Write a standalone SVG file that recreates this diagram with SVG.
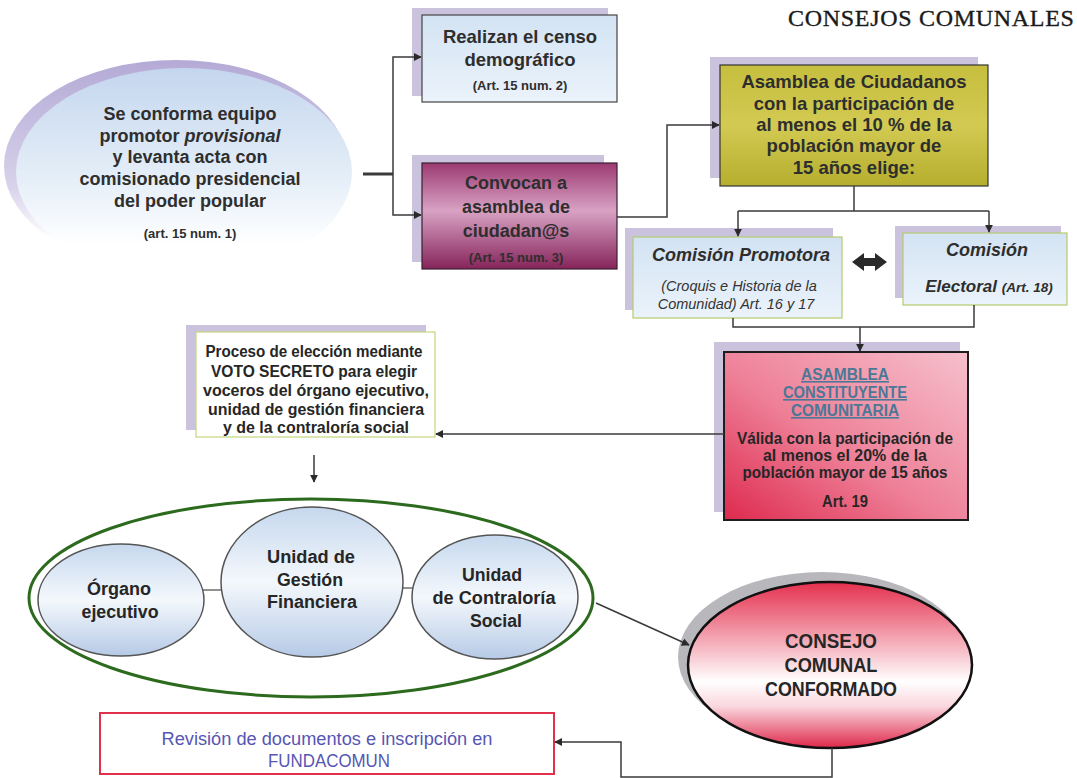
<svg xmlns="http://www.w3.org/2000/svg" width="1077" height="778" viewBox="0 0 1077 778">
<defs>
<style>
.t{font-family:"Liberation Sans",Arial,sans-serif;font-weight:bold;fill:#2e2e2e;text-anchor:middle}
.n{font-family:"Liberation Sans",Arial,sans-serif;font-weight:bold;fill:#262626;text-anchor:middle}
.u{font-family:"Liberation Sans",Arial,sans-serif;font-weight:bold;fill:#4a7896;text-anchor:middle;text-decoration:underline}
.sh{fill:#cbc3dd}
.ln{fill:none;stroke:#3a3a3a;stroke-width:1.5}
</style>
<marker id="ah" viewBox="0 0 10 10" refX="9" refY="5" markerWidth="8" markerHeight="8" orient="auto" markerUnits="userSpaceOnUse">
<path d="M0,0 L10,5 L0,10 z" fill="#2a2a2a"/>
</marker>
<linearGradient id="gBlue" x1="0" y1="0" x2="0" y2="1"><stop offset="0" stop-color="#d3e3f3"/><stop offset="1" stop-color="#ebf3fb"/></linearGradient>
<linearGradient id="gMag" x1="0" y1="0" x2="0" y2="1"><stop offset="0" stop-color="#9c3a72"/><stop offset="0.45" stop-color="#d8a2c4"/><stop offset="1" stop-color="#86245a"/></linearGradient>
<linearGradient id="gOl" x1="0" y1="0" x2="0" y2="1"><stop offset="0" stop-color="#c6be3e"/><stop offset="0.5" stop-color="#d2ca52"/><stop offset="1" stop-color="#b6ae2e"/></linearGradient>
<linearGradient id="gRed" x1="1" y1="0" x2="0" y2="1"><stop offset="0" stop-color="#f6c0cc"/><stop offset="0.55" stop-color="#ee8098"/><stop offset="1" stop-color="#de2a4e"/></linearGradient>
<linearGradient id="gCon" x1="0" y1="0" x2="0" y2="1"><stop offset="0" stop-color="#e4304e"/><stop offset="0.6" stop-color="#ffffff"/><stop offset="0.75" stop-color="#fad6de"/><stop offset="1" stop-color="#de284a"/></linearGradient>
<linearGradient id="gCir" x1="0" y1="0" x2="0" y2="1"><stop offset="0" stop-color="#c6d8ee"/><stop offset="0.5" stop-color="#f4f8fc"/><stop offset="1" stop-color="#b6cae6"/></linearGradient>
<linearGradient id="gBub" x1="0" y1="0" x2="0" y2="1"><stop offset="0" stop-color="#c4d6ee"/><stop offset="0.55" stop-color="#e6eff8"/><stop offset="0.85" stop-color="#ffffff"/></linearGradient>
<linearGradient id="gRim" x1="0" y1="0" x2="0" y2="1"><stop offset="0" stop-color="#b4aad6"/><stop offset="0.6" stop-color="#d8d2ea"/><stop offset="0.85" stop-color="#ffffff"/></linearGradient>
</defs>
<rect width="1077" height="778" fill="#ffffff"/>

<text x="788" y="26" font-family="'Liberation Serif','Times New Roman',serif" font-size="24" fill="#1a1a1a" stroke="#1a1a1a" stroke-width="0.35" letter-spacing="0.7">CONSEJOS  COMUNALES</text>

<g id="n-equipo">
<ellipse cx="176" cy="166" rx="172" ry="106" fill="url(#gRim)"/>
<ellipse cx="184" cy="172" rx="168" ry="104" fill="url(#gBub)"/>
<text class="t" font-size="18" x="190" y="120">Se conforma equipo</text>
<text class="t" font-size="18" x="190" y="142">promotor <tspan font-style="italic">provisional</tspan></text>
<text class="t" font-size="18" x="190" y="163">y levanta acta con</text>
<text class="t" font-size="18" x="190" y="185">comisionado presidencial</text>
<text class="t" font-size="18" x="190" y="207">del poder popular</text>
<text class="t" font-size="13" x="190" y="238">(art. 15 num. 1)</text>
</g>

<g id="n-censo">
<rect class="sh" x="412" y="8" width="196" height="88"/>
<rect x="422" y="15" width="195" height="87" fill="url(#gBlue)" stroke="#444" stroke-width="1.2"/>
<text class="t" font-size="18.5" x="520" y="43">Realizan el censo</text>
<text class="t" font-size="18.5" x="520" y="66">demográfico</text>
<text class="t" font-size="13" x="520" y="90">(Art. 15 num. 2)</text>
</g>

<g id="n-convocan">
<rect class="sh" x="412" y="155" width="192" height="107"/>
<rect x="422" y="163" width="195" height="106" fill="url(#gMag)" stroke="#3a2030" stroke-width="1.2"/>
<text class="t" font-size="18" x="516" y="189">Convocan a</text>
<text class="t" font-size="18" x="516" y="213">asamblea de</text>
<text class="t" font-size="18" x="516" y="237">ciudadan@s</text>
<text class="t" font-size="13" x="516" y="262">(Art. 15 num. 3)</text>
</g>

<g id="n-asamblea-ciudadanos">
<rect class="sh" x="710" y="57" width="268" height="121"/>
<rect x="720" y="65" width="268" height="121" fill="url(#gOl)" stroke="#333" stroke-width="1.2"/>
<text class="t" font-size="18.5" x="854" y="88">Asamblea de Ciudadanos</text>
<text class="t" font-size="18.5" x="854" y="110">con la participación de</text>
<text class="t" font-size="18.5" x="854" y="131">al menos el 10 % de la</text>
<text class="t" font-size="18.5" x="854" y="152">población mayor de</text>
<text class="t" font-size="18.5" x="854" y="174">15 años elige:</text>
</g>

<g id="n-promotora">
<rect class="sh" x="625" y="228" width="208" height="82"/>
<rect x="633" y="237" width="209" height="81" fill="url(#gBlue)" stroke="#b4cc6c" stroke-width="1.2"/>
<text class="t" font-size="18" font-style="italic" x="741" y="261">Comisión Promotora</text>
<text font-family="'Liberation Sans',Arial,sans-serif" font-size="14.5" font-style="italic" fill="#333" text-anchor="middle" x="739" y="291">(Croquis e Historia de la</text>
<text font-family="'Liberation Sans',Arial,sans-serif" font-size="14.5" font-style="italic" fill="#333" text-anchor="middle" x="736" y="309">Comunidad) Art. 16 y 17</text>
</g>

<g id="n-electoral">
<rect class="sh" x="895" y="226" width="166" height="72"/>
<rect x="903" y="233" width="164" height="72" fill="url(#gBlue)" stroke="#b4cc6c" stroke-width="1.2"/>
<text class="t" font-size="18" font-style="italic" x="987" y="256">Comisión</text>
<text class="t" font-size="17" font-style="italic" x="989" y="292">Electoral <tspan font-size="13.5">(Art. 18)</tspan></text>
</g>

<g id="n-constituyente">
<rect class="sh" x="714" y="342" width="246" height="170"/>
<rect x="724" y="352" width="244" height="168" fill="url(#gRed)" stroke="#1e1e1e" stroke-width="2"/>
<text class="u" font-size="16" x="845" y="380" textLength="88" lengthAdjust="spacingAndGlyphs">ASAMBLEA</text>
<text class="u" font-size="16" x="845" y="398" textLength="124" lengthAdjust="spacingAndGlyphs">CONSTITUYENTE</text>
<text class="u" font-size="16" x="845" y="416" textLength="108" lengthAdjust="spacingAndGlyphs">COMUNITARIA</text>
<text class="n" font-size="16.5" x="845" y="444" textLength="216" lengthAdjust="spacingAndGlyphs">Válida con la participación de</text>
<text class="n" font-size="16.5" x="845" y="461" textLength="164" lengthAdjust="spacingAndGlyphs">al menos el 20% de la</text>
<text class="n" font-size="16.5" x="845" y="478" textLength="205" lengthAdjust="spacingAndGlyphs">población mayor de 15 años</text>
<text class="n" font-size="16.5" x="845" y="507" textLength="46" lengthAdjust="spacingAndGlyphs">Art. 19</text>
</g>

<g id="n-proceso">
<rect class="sh" x="186" y="325" width="240" height="105"/>
<rect x="196" y="332" width="239" height="105" fill="#ffffff" stroke="#c4d67c" stroke-width="1.2"/>
<text class="n" font-size="16" x="314" y="357" textLength="217" lengthAdjust="spacingAndGlyphs">Proceso de elección mediante</text>
<text class="n" font-size="16" x="314" y="377" textLength="206" lengthAdjust="spacingAndGlyphs">VOTO SECRETO para elegir</text>
<text class="n" font-size="16" x="316" y="396" textLength="226" lengthAdjust="spacingAndGlyphs">voceros del órgano ejecutivo,</text>
<text class="n" font-size="16" x="316" y="415" textLength="216" lengthAdjust="spacingAndGlyphs">unidad de gestión financiera</text>
<text class="n" font-size="16" x="316" y="433" textLength="186" lengthAdjust="spacingAndGlyphs">y de la contraloría social</text>
</g>

<g id="n-grupo">
<ellipse cx="311" cy="598" rx="282" ry="99" fill="#ffffff" stroke="#2c6a1e" stroke-width="3"/>
<line x1="203" y1="590" x2="222" y2="590" stroke="#555" stroke-width="1.3"/>
<line x1="402" y1="588" x2="413" y2="588" stroke="#555" stroke-width="1.3"/>
</g>
<g id="n-organo">
<ellipse cx="121" cy="600" rx="83" ry="56" fill="url(#gCir)" stroke="#555" stroke-width="1.5"/>
<text class="n" font-size="18" x="119" y="595" textLength="64" lengthAdjust="spacingAndGlyphs">Órgano</text>
<text class="n" font-size="18" x="120" y="618" textLength="77" lengthAdjust="spacingAndGlyphs">ejecutivo</text>
</g>
<g id="n-gestion">
<ellipse cx="312" cy="582" rx="91" ry="75" fill="url(#gCir)" stroke="#555" stroke-width="1.5"/>
<text class="n" font-size="18" x="311" y="563" textLength="88" lengthAdjust="spacingAndGlyphs">Unidad de</text>
<text class="n" font-size="18" x="310" y="586" textLength="66" lengthAdjust="spacingAndGlyphs">Gestión</text>
<text class="n" font-size="18" x="312" y="608" textLength="90" lengthAdjust="spacingAndGlyphs">Financiera</text>
</g>
<g id="n-contraloria">
<ellipse cx="495" cy="597" rx="83" ry="62" fill="url(#gCir)" stroke="#555" stroke-width="1.5"/>
<text class="n" font-size="18" x="492" y="581" textLength="60" lengthAdjust="spacingAndGlyphs">Unidad</text>
<text class="n" font-size="18" x="494" y="604" textLength="123" lengthAdjust="spacingAndGlyphs">de Contraloría</text>
<text class="n" font-size="18" x="496" y="627" textLength="52" lengthAdjust="spacingAndGlyphs">Social</text>
</g>

<g id="n-consejo">
<ellipse cx="822" cy="657" rx="144" ry="85" fill="#b8b8bc"/>
<ellipse cx="830" cy="665" rx="142" ry="83" fill="url(#gCon)" stroke="#111" stroke-width="2.5"/>
<text class="n" font-size="20" x="831" y="648" textLength="92" lengthAdjust="spacingAndGlyphs">CONSEJO</text>
<text class="n" font-size="20" x="831" y="672" textLength="93" lengthAdjust="spacingAndGlyphs">COMUNAL</text>
<text class="n" font-size="20" x="831" y="696" textLength="132" lengthAdjust="spacingAndGlyphs">CONFORMADO</text>
</g>

<g id="n-fundacomun">
<rect x="100" y="713" width="454" height="61" fill="#ffffff" stroke="#e0304a" stroke-width="2"/>
<text font-family="'Liberation Sans',Arial,sans-serif" font-size="18" fill="#5656b4" text-anchor="middle" x="327" y="745" textLength="331" lengthAdjust="spacingAndGlyphs">Revisión de documentos e inscripción en</text>
<text font-family="'Liberation Sans',Arial,sans-serif" font-size="18" fill="#5656b4" text-anchor="middle" x="329" y="767" textLength="122" lengthAdjust="spacingAndGlyphs">FUNDACOMUN</text>
</g>

<g id="connectors">
<line x1="363" y1="174" x2="393" y2="174" stroke="#3a3a3a" stroke-width="3"/>
<path class="ln" d="M393,174 V57 H421" marker-end="url(#ah)"/>
<path class="ln" d="M393,174 V215 H421" marker-end="url(#ah)"/>
<path class="ln" d="M617,217 H667 V125 H719" marker-end="url(#ah)"/>
<path class="ln" d="M854,186 V211"/>
<path class="ln" d="M738,211 H989"/>
<path class="ln" d="M738,211 V236" marker-end="url(#ah)"/>
<path class="ln" d="M989,211 V232" marker-end="url(#ah)"/>
<path d="M852,262 L864,253 V258 H875 V253 L887,262 L875,271 V266 H864 V271 Z" fill="#2a2a2a"/>
<path class="ln" d="M733,318 V327 H974 V305"/>
<path class="ln" d="M860,327 V351" marker-end="url(#ah)"/>
<path class="ln" d="M724,434 H436" marker-end="url(#ah)"/>
<path class="ln" d="M314,455 V482" marker-end="url(#ah)"/>
<path class="ln" d="M596,603 L689,645" marker-end="url(#ah)"/>
<path class="ln" d="M832,748 V777 H621 V742 H555" marker-end="url(#ah)"/>
</g>
</svg>
